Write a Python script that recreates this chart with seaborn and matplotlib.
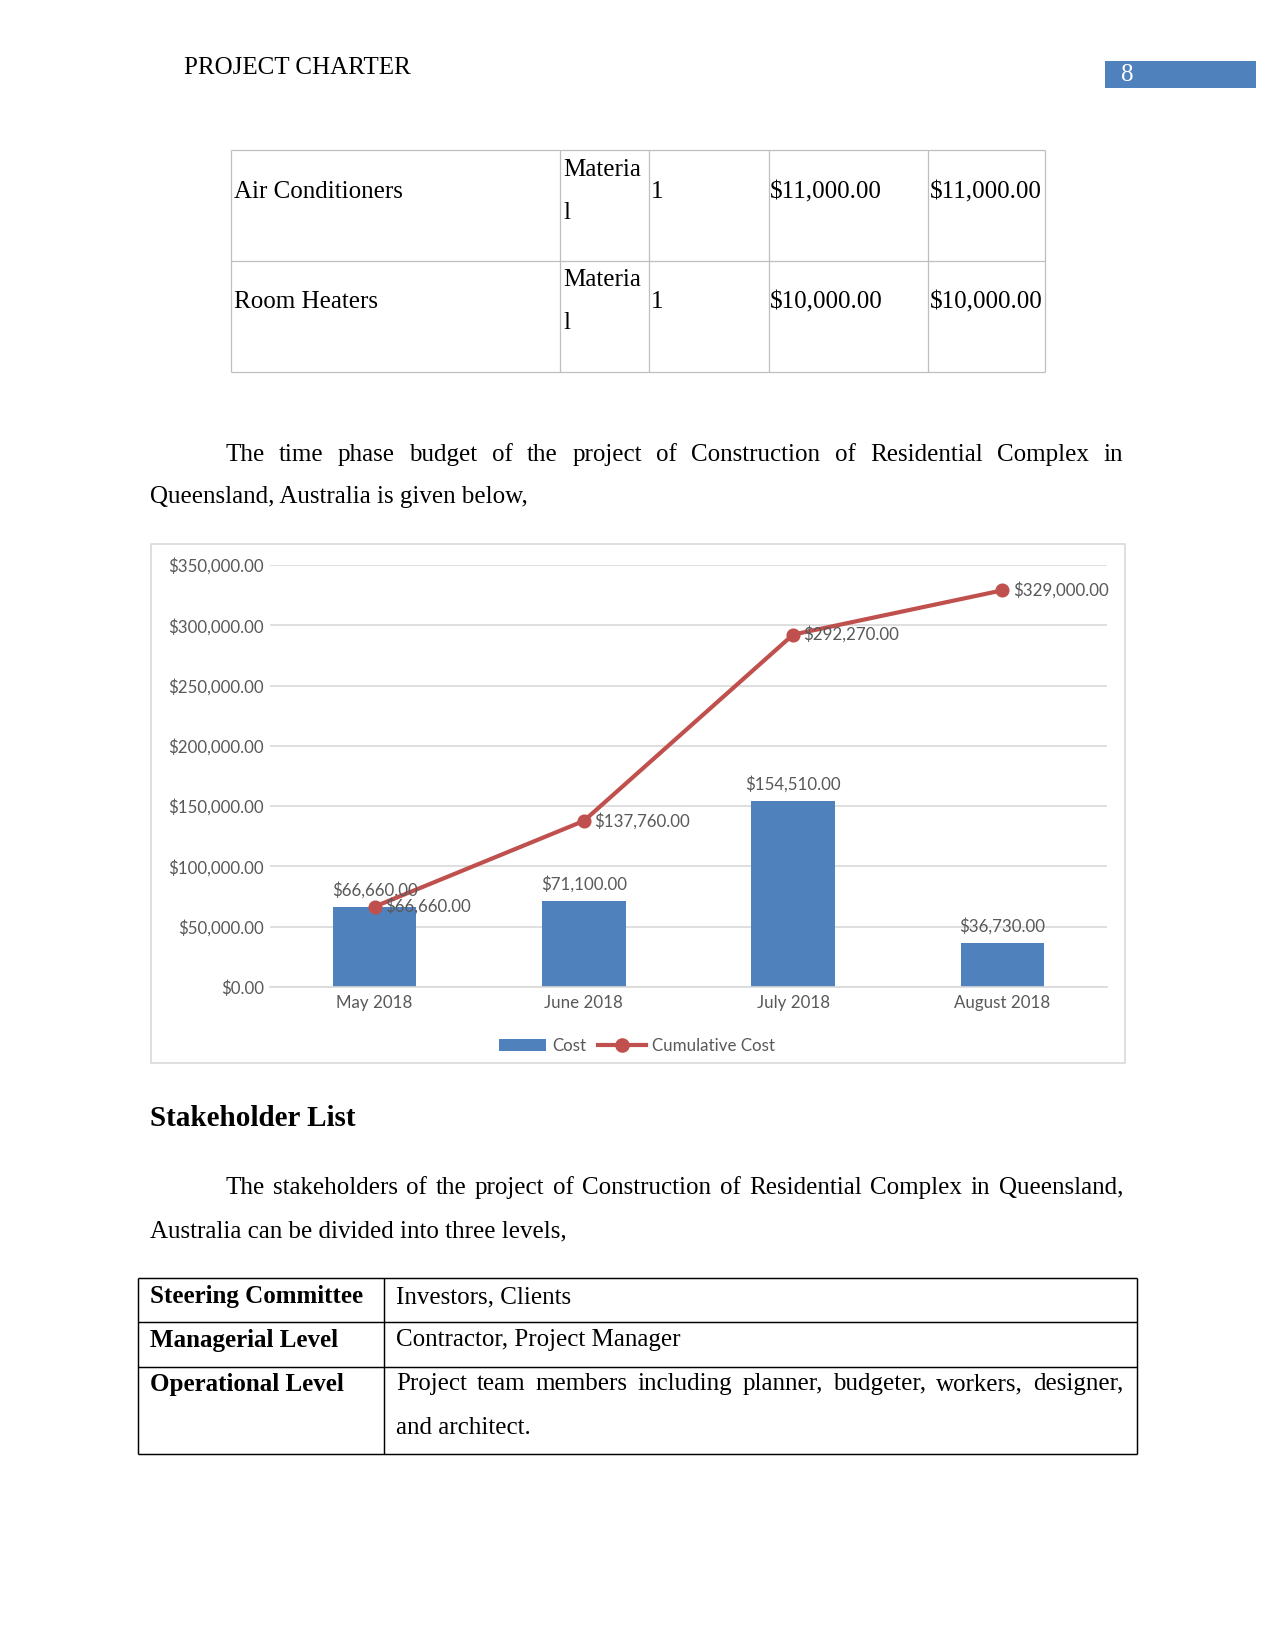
import numpy as np
import matplotlib
matplotlib.use("Agg")
import matplotlib.pyplot as plt
from matplotlib.lines import Line2D
from matplotlib.patches import Rectangle, Patch
import seaborn as sns

# ---------------- data ----------------
months = ["May 2018", "June 2018", "July 2018", "August 2018"]
cost = [66660, 71100, 154510, 36730]
cumulative = [66660, 137760, 292270, 329000]
y_ticks = [0, 50000, 100000, 150000, 200000, 250000, 300000, 350000]

table1_rows = [
    ["Air Conditioners", "Materia", "l", "1", "$11,000.00", "$11,000.00"],
    ["Room Heaters", "Materia", "l", "1", "$10,000.00", "$10,000.00"],
]
para1 = ["The time phase budget of the project of Construction of Residential Complex in",
         "Queensland, Australia is given below,"]
heading = "Stakeholder List"
para2 = ["The stakeholders of the project of Construction of Residential Complex in Queensland,",
         "Australia can be divided into three levels,"]
table2_rows = [
    ("Steering Committee", ["Investors, Clients"]),
    ("Managerial Level", ["Contractor, Project Manager"]),
    ("Operational Level", ["Project team members including planner, budgeter, workers, designer,",
                           "and architect."]),
]

# ---------------- page setup ----------------
W, H = 1275, 1651
DPI = 150
fig = plt.figure(figsize=(W / DPI, H / DPI), dpi=DPI)
fig.patch.set_facecolor("white")
SERIF = ["Liberation Serif", "DejaVu Serif"]
SANS = ["Lato", "DejaVu Sans"]
SANS_SIZE = 8.1
DY = 2  # vertical nudge for body text


def fx(x):
    return x / W


def fy(y):
    return 1 - y / H


def txt(x, y, s, size=12, family=SERIF, ha="left", va="center", **kw):
    return fig.text(fx(x), fy(y + DY), s, fontsize=size, family=family, ha=ha, va=va, **kw)


def line(x0, y0, x1, y1, color="black", lw=0.6):
    fig.add_artist(Line2D([fx(x0), fx(x1)], [fy(y0), fy(y1)], transform=fig.transFigure,
                          color=color, lw=lw, solid_capstyle="butt"))


renderer = fig.canvas.get_renderer()


def justify(s, x0, x1, y, **kw):
    words = s.split()
    ts = [txt(x0, y, w, **kw) for w in words]
    widths = [t.get_window_extent(renderer).width for t in ts]
    gap = (x1 - x0 - sum(widths)) / (len(words) - 1)
    x = x0
    for t, w in zip(ts, widths):
        t.set_x(fx(x))
        x += w + gap


# header
txt(184, 66, "PROJECT CHARTER")
fig.add_artist(Rectangle((fx(1105), fy(88)), (1256 - 1105) / W, (88 - 61) / H,
                         transform=fig.transFigure, facecolor="#4F81BD", edgecolor="none"))
txt(1121, 73, "8", color="white")

# table 1
gray = "#BFBFBF"
tx = [231, 560, 649, 769, 928, 1045]
ty = [150, 261, 372]
for x in tx:
    line(x, ty[0], x, ty[-1], color=gray, lw=0.6)
for y in ty:
    line(tx[0], y, tx[-1], y, color=gray, lw=0.6)
for r, row in enumerate(table1_rows):
    yc = 190 + r * 110
    txt(234, yc, row[0])
    txt(563, yc - 22, row[1])
    txt(563, yc + 21, row[2])
    txt(651, yc, row[3])
    txt(770, yc, row[4])
    txt(930, yc, row[5])

# paragraph 1
justify(para1[0], 225, 1123, 453)
txt(150, 495, para1[1])

# ---------------- chart ----------------
fig.add_artist(Rectangle((fx(151), fy(1063)), (1125 - 151) / W, (1063 - 544) / H,
                         transform=fig.transFigure, facecolor="none", edgecolor="#D9D9D9", lw=0.8))
ax = fig.add_axes([270 / W, 1 - 987 / H, 837 / W, 422 / H])
sns.barplot(x=months, y=cost, color="#4F81BD", saturation=1, width=0.4, ax=ax, zorder=2)
sns.lineplot(x=np.arange(len(months)), y=cumulative, color="#C0504D", lw=2.0, marker="o",
             markersize=6, markeredgecolor="#C0504D", ax=ax, zorder=3)
ax.set_xlim(-0.5, 3.5)
ax.set_ylim(0, 350000)
ax.set_yticks(y_ticks)
ax.set_yticklabels([f"${v:,.2f}" for v in y_ticks])
ax.set_xticks(range(len(months)))
ax.set_xticklabels(months)
ax.set_xlabel("")
ax.set_ylabel("")
ax.grid(axis="y", color="#D9D9D9", lw=0.8, zorder=0)
ax.set_axisbelow(True)
for s in ["top", "right", "left"]:
    ax.spines[s].set_visible(False)
ax.spines["bottom"].set_color("#D9D9D9")
ax.spines["bottom"].set_linewidth(0.8)
ax.tick_params(length=0, labelcolor="#595959", labelsize=SANS_SIZE)
ax.tick_params(axis="y", pad=3)
ax.tick_params(axis="x", pad=4)
for lab in ax.get_xticklabels() + ax.get_yticklabels():
    lab.set_family(SANS)
ax.set_facecolor("none")

for i, v in enumerate(cost):
    ax.annotate(f"${v:,.2f}", (i, v), xytext=(0, 8), textcoords="offset points",
                ha="center", va="center", fontsize=SANS_SIZE, color="#595959", family=SANS)
for i, v in enumerate(cumulative):
    ax.annotate(f"${v:,.2f}", (i, v), xytext=(5, 0), textcoords="offset points",
                ha="left", va="center", fontsize=SANS_SIZE, color="#595959", family=SANS)

handles = [Patch(facecolor="#4F81BD", edgecolor="none", label="Cost"),
           Line2D([], [], color="#C0504D", lw=2.0, marker="o", markersize=6, label="Cumulative Cost")]
leg = fig.legend(handles=handles, loc="center", bbox_to_anchor=(fx(637), fy(1046)), ncol=2,
                 frameon=False, handlelength=2.8, handletextpad=0.4, columnspacing=0.7,
                 prop={"family": SANS, "size": SANS_SIZE})
for t in leg.get_texts():
    t.set_color("#595959")

# ---------------- lower text ----------------
txt(150, 1116, heading, size=14, weight="bold")
justify(para2[0], 225, 1123, 1186)
txt(150, 1229, para2[1])

# table 2
bx = [138, 384, 1137]
by = [1278, 1322, 1367, 1454]
for x in bx:
    line(x, by[0], x, by[-1], lw=0.7)
for y in by:
    line(bx[0], y, bx[-1], y, lw=0.7)
row_y = [1295, 1338, 1382]
for (lab, lines), yc in zip(table2_rows, row_y):
    txt(150, yc, lab, weight="bold")
    if len(lines) == 1:
        txt(396, yc, lines[0])
    else:
        justify(lines[0], 396, 1123, yc)
        txt(396, yc + 44, lines[1])

fig.savefig("out.png", dpi=DPI, facecolor="white")
